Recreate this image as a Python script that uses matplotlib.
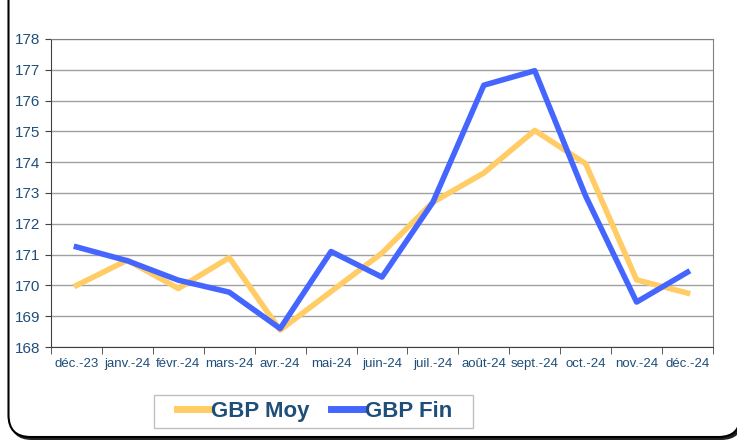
import matplotlib.pyplot as plt
from matplotlib.patches import FancyBboxPatch, Rectangle

plt.rcParams['font.family'] = ['Liberation Sans', 'DejaVu Sans']

# Data
mois = ['déc.-23', 'janv.-24', 'févr.-24', 'mars-24', 'avr.-24', 'mai-24', 'juin-24',
        'juil.-24', 'août-24', 'sept.-24', 'oct.-24', 'nov.-24', 'déc.-24']
gbp_moy = [170.0, 170.82, 169.9, 170.9, 168.55, 169.8, 171.05,
           172.7, 173.65, 175.03, 173.95, 170.18, 169.75]
gbp_fin = [171.25, 170.8, 170.17, 169.78, 168.6, 171.1, 170.27,
           172.7, 176.5, 176.97, 172.9, 169.46, 170.43]

txt_color = '#1F4E79'

fig = plt.figure(figsize=(7.37, 4.42), dpi=100)

# rounded frame with shadow (inches)
tr = fig.dpi_scale_trans
shadow = FancyBboxPatch((0.10, 0.02), 7.33, 4.6, boxstyle='round,pad=0,rounding_size=0.22',
                        transform=tr, facecolor='#222222', edgecolor='none', zorder=0)
frame = FancyBboxPatch((0.085, 0.05), 7.32, 4.6, boxstyle='round,pad=0,rounding_size=0.22',
                       transform=tr, facecolor='white', edgecolor='black', linewidth=1.5, zorder=1)
fig.patches.extend([shadow, frame])

ax = fig.add_axes([0.0692, 0.2149, 0.8982, 0.6969])
ax.set_zorder(2)
x = list(range(len(mois)))
l1, = ax.plot(x, gbp_moy, color='#FFCC66', linewidth=4, label='GBP Moy', zorder=3)
l2, = ax.plot(x, gbp_fin, color='#4466FF', linewidth=4, label='GBP Fin', zorder=4)

ax.set_xlim(-0.5, len(mois) - 0.5)
ax.set_ylim(168, 178)
ax.set_yticks(range(168, 179))
ax.tick_params(axis='y', labelsize=11, labelcolor=txt_color, color='#404040', direction='out', length=4)
ax.set_xticks(x)
ax.set_xticklabels(mois)
ax.tick_params(axis='x', which='major', length=0, labelsize=9.5, labelcolor=txt_color, pad=8)
ax.set_xticks([i - 0.5 for i in range(len(mois) + 1)], minor=True)
ax.tick_params(axis='x', which='minor', length=5, color='#404040', direction='out')

ax.grid(axis='y', color='#A0A0A0', linewidth=1)
ax.set_axisbelow(True)
for s in ['top', 'right']:
    ax.spines[s].set_color('#808080')
for s in ['left', 'bottom']:
    ax.spines[s].set_color('#404040')

# legend box drawn by hand, legend itself without frame
box = Rectangle((1.54, 0.14), 3.19, 0.33, transform=tr, facecolor='white',
                edgecolor='#C0C0C0', linewidth=1, zorder=3)
fig.patches.append(box)
leg = fig.legend(handles=[l1, l2], loc='center', bbox_to_anchor=(0.427, 0.069), ncol=2,
                 frameon=False, handlelength=1.45, handletextpad=0.05, columnspacing=1.0,
                 borderpad=0.2, prop={'weight': 'bold', 'size': 16})
leg.set_zorder(4)
for t in leg.get_texts():
    t.set_color(txt_color)
for h in leg.get_lines():
    h.set_linewidth(5)

fig.savefig('out.png', dpi=100)
